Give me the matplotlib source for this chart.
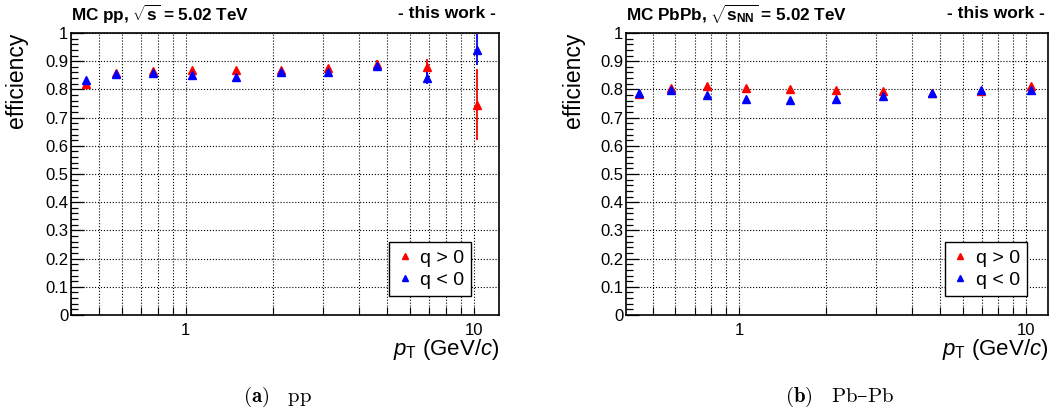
import matplotlib
matplotlib.use("Agg")
import matplotlib.pyplot as plt
import numpy as np
from matplotlib.lines import Line2D
from matplotlib.ticker import LogLocator, FixedLocator, MultipleLocator, NullFormatter, FixedFormatter

plt.rcParams['font.family'] = ['Liberation Sans', 'DejaVu Sans']
plt.rcParams['mathtext.fontset'] = 'custom'
plt.rcParams['mathtext.rm'] = 'Liberation Sans'
plt.rcParams['mathtext.it'] = 'Liberation Sans:italic'
plt.rcParams['mathtext.bf'] = 'Liberation Sans:bold'

# ---- data: pp ----
pt_pp = [0.45, 0.575, 0.77, 1.05, 1.49, 2.14, 3.11, 4.6, 6.87, 10.2]
eff_pp_pos = [0.820, 0.857, 0.864, 0.868, 0.870, 0.868, 0.875, 0.891, 0.879, 0.746]
err_pp_pos = [0.004, 0.004, 0.004, 0.004, 0.005, 0.005, 0.007, 0.012, 0.030, 0.125]
eff_pp_neg = [0.832, 0.855, 0.858, 0.851, 0.844, 0.860, 0.860, 0.882, 0.841, 0.941]
err_pp_neg = [0.004, 0.004, 0.004, 0.004, 0.005, 0.005, 0.007, 0.012, 0.022, 0.055]

# ---- data: PbPb ----
pt_pbpb = [0.45, 0.58, 0.775, 1.06, 1.51, 2.17, 3.17, 4.7, 6.95, 10.4]
eff_pbpb_pos = [0.784, 0.805, 0.811, 0.806, 0.803, 0.799, 0.794, 0.789, 0.796, 0.811]
err_pbpb_pos = [0.002, 0.002, 0.002, 0.002, 0.002, 0.002, 0.003, 0.003, 0.004, 0.006]
eff_pbpb_neg = [0.787, 0.797, 0.781, 0.766, 0.761, 0.766, 0.775, 0.787, 0.797, 0.799]
err_pbpb_neg = [0.002, 0.002, 0.002, 0.002, 0.002, 0.002, 0.003, 0.003, 0.004, 0.006]

yticks = [0, 0.1, 0.2, 0.3, 0.4, 0.5, 0.6, 0.7, 0.8, 0.9, 1]
ytick_labels = ['0', '0.1', '0.2', '0.3', '0.4', '0.5', '0.6', '0.7', '0.8', '0.9', '1']

W, H = 1058, 416
fig = plt.figure(figsize=(W / 100, H / 100), dpi=100)

def make_axes(x0, x1, y0, y1):
    return fig.add_axes([x0 / W, 1 - y1 / H, (x1 - x0) / W, (y1 - y0) / H])

panels = [
    dict(box=(71, 499, 33, 315), xlim=(0.4, 12.2), pt=pt_pp,
         pos=(eff_pp_pos, err_pp_pos), neg=(eff_pp_neg, err_pp_neg),
         title=r"MC pp, $\sqrt{\mathbf{s}}$ = 5.02 TeV",
         caption=r"$\mathbf{(a)}\quad\mathrm{pp}$", capx=277, ylabx=17, leg=(0.935, 0.067)),
    dict(box=(626, 1048, 33, 315), xlim=(0.404, 11.9), pt=pt_pbpb,
         pos=(eff_pbpb_pos, err_pbpb_pos), neg=(eff_pbpb_neg, err_pbpb_neg),
         title=r"MC PbPb, $\sqrt{\mathbf{s}_{\mathbf{NN}}}$ = 5.02 TeV",
         caption=r"$\mathbf{(b)}\quad\mathrm{Pb}$" + "\u2013" + r"$\mathrm{Pb}$", capx=840, ylabx=573, leg=(0.95, 0.067)),
]

for p in panels:
    x0, x1, y0, y1 = p['box']
    ax = make_axes(x0, x1, y0, y1)
    ax.set_xscale('log')
    ax.set_xlim(*p['xlim'])
    ax.set_ylim(0, 1)
    ax.xaxis.set_major_locator(FixedLocator([1, 10]))
    ax.xaxis.set_major_formatter(FixedFormatter(['1', '10']))
    ax.xaxis.set_minor_locator(LogLocator(base=10, subs=np.arange(2, 10)))
    ax.xaxis.set_minor_formatter(NullFormatter())
    ax.yaxis.set_major_locator(FixedLocator(yticks))
    ax.yaxis.set_major_formatter(FixedFormatter(ytick_labels))
    ax.yaxis.set_minor_locator(MultipleLocator(0.02))
    ax.tick_params(which='both', direction='in', top=False, right=False, labelsize=12)
    ax.tick_params(axis='y', which='major', length=9, width=0.9, pad=2)
    ax.tick_params(axis='y', which='minor', length=5, width=0.9)
    ax.tick_params(axis='x', which='both', length=6, width=0.8, pad=6)
    ax.grid(True, which='major', axis='both', linestyle=':', color='black', linewidth=0.8)
    ax.grid(True, which='minor', axis='x', linestyle=':', color='black', linewidth=0.8)
    for s in ax.spines.values():
        s.set_linewidth(1.2)
        s.set_color('black')
    ax.set_axisbelow(True)

    eff, err = p['pos']
    ax.errorbar(p['pt'], eff, yerr=err, fmt='^', color='red', ms=5.5, elinewidth=1.3,
                capsize=0, clip_on=True, zorder=3)
    eff, err = p['neg']
    ax.errorbar(p['pt'], eff, yerr=err, fmt='^', color='blue', ms=5.5, elinewidth=1.3,
                capsize=0, clip_on=True, zorder=4)

    handles = [Line2D([], [], marker='^', color='red', linestyle='none', ms=5),
               Line2D([], [], marker='^', color='blue', linestyle='none', ms=5)]
    leg = ax.legend(handles, ['q > 0', 'q < 0'], loc='lower right', bbox_to_anchor=p['leg'],
                    fontsize=14, frameon=True, fancybox=False, edgecolor='black', framealpha=1,
                    handlelength=0.9, handletextpad=0.35, borderpad=0.35, labelspacing=0.25,
                    borderaxespad=0)
    leg.get_frame().set_linewidth(1.0)

    fig.text(x0 / W, 1 - 14 / H, p['title'], fontsize=12.3, fontweight='bold', ha='left', va='center')
    fig.text((x1 - 3) / W, 1 - 14 / H, '- this work -', fontsize=12.5, fontweight='bold', ha='right', va='center')
    fig.text(p['ylabx'] / W, 1 - 33 / H, 'efficiency', fontsize=16.5, rotation=90, ha='center', va='top')
    fig.text(x1 / W, 1 - 350 / H, r"$p_{\mathrm{T}}$ (GeV/$c$)", fontsize=16, ha='right', va='center')
    fig.text(p['capx'] / W, 1 - 397 / H, p['caption'], fontsize=15, ha='center', va='center',
             math_fontfamily='cm', family='DejaVu Serif')

fig.savefig('out.png', dpi=100)
